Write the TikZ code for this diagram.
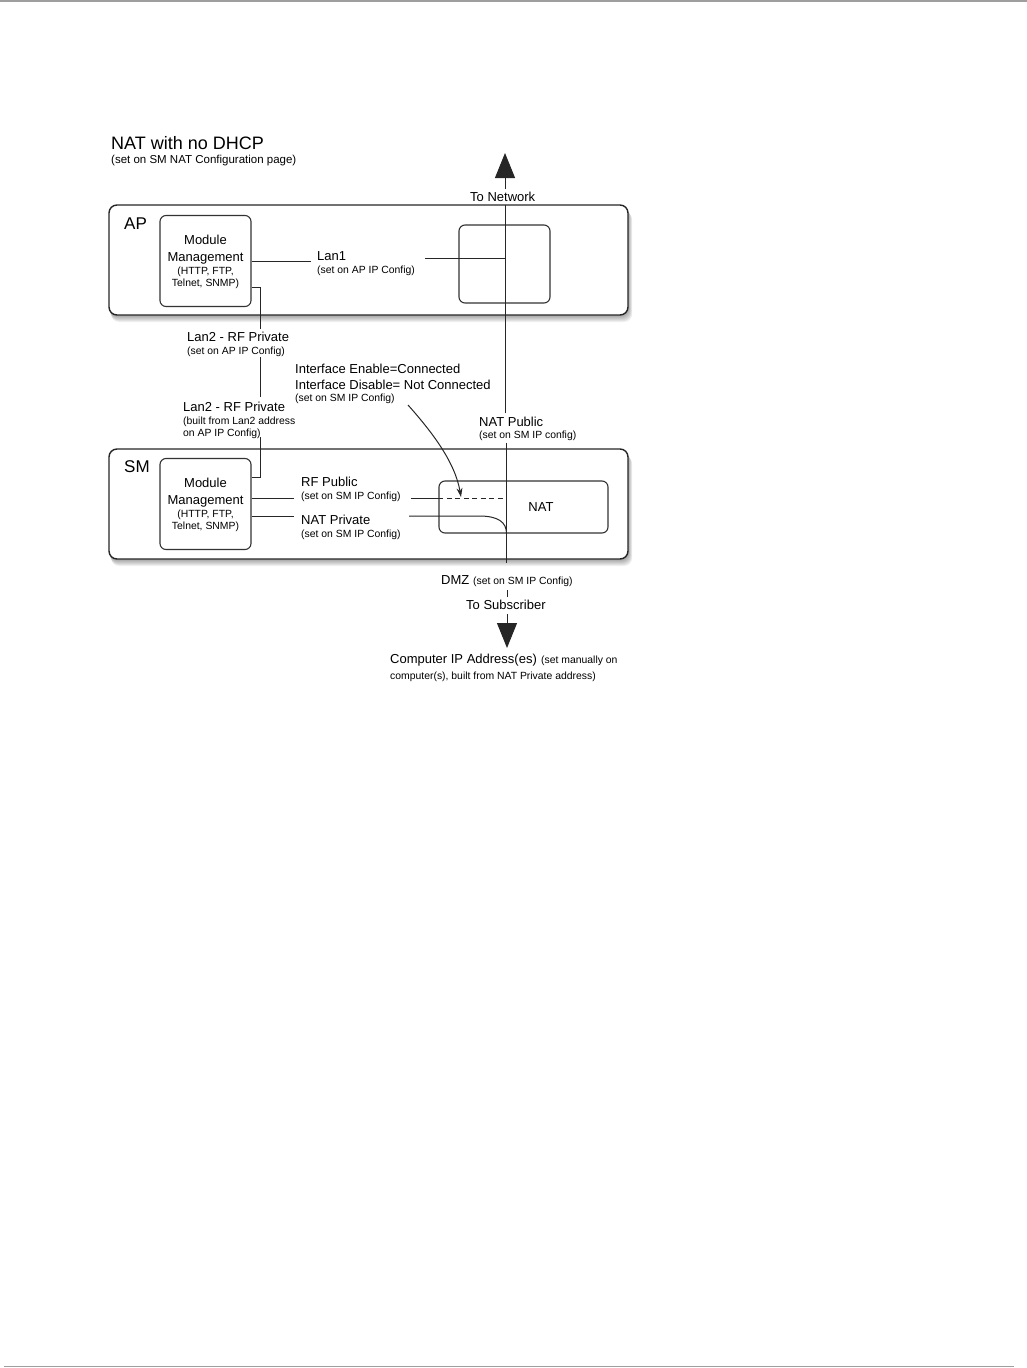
\documentclass[tikz,border=0pt]{standalone}
\usepackage{fontspec}
\setmainfont{Liberation Sans}
\usetikzlibrary{arrows.meta,calc}
\newcommand\fmed{\fontsize{13}{15.5}\selectfont}
\newcommand\fsm{\fontsize{10.4}{12.5}\selectfont}
\begin{document}
\begin{tikzpicture}[x=1pt,y=-1pt,
  txt/.style={inner sep=0pt, anchor=base west, font=\fmed},
  stxt/.style={inner sep=0pt, anchor=base west, font=\fsm},
  ctxt/.style={inner sep=0pt, anchor=base, font=\fmed},
  cstxt/.style={inner sep=0pt, anchor=base, font=\fsm},
  bigbox/.style={draw=black!85, line width=1.4pt, rounded corners=8pt, fill=white, inner sep=0pt},
  inbox/.style={draw=black!80, line width=1.1pt, rounded corners=6pt, inner sep=0pt},
  ln/.style={draw=black!85, line width=1pt},
  bigtip/.style={-{Triangle[length=25pt,width=20pt]}},
  smalltip/.style={-{Stealth[length=9pt,width=6pt]}}
]
\useasboundingbox (0,0) rectangle (1027,1368);
% page rules
\draw[black!38, line width=1.5pt] (0,0.75) -- (1027,0.75);
\draw[black!38, line width=1.2pt] (4,1366.6) -- (1014,1366.6);

% shadows of the big boxes
\foreach \yy in {260,504}{
  \foreach \i in {1,...,7}{
    \fill[black, opacity=0.06, rounded corners=8pt]
      (109+0.3*\i,\yy-55+\i) rectangle (628+0.6*\i,\yy+55+\i);
  }
}

% big boxes
\node[bigbox, minimum width=519pt, minimum height=110pt] (ap) at (368.5,260) {};
\node[bigbox, minimum width=519pt, minimum height=110pt] (sm) at (368.5,504) {};

% inner boxes
\node[inbox, minimum width=91pt, minimum height=91pt] (apmm) at (205.5,261) {};
\node[inbox, minimum width=91pt, minimum height=91pt] (smmm) at (205.5,504) {};
\node[inbox, minimum width=91pt, minimum height=78pt] (apsq) at (504.5,264) {};
\node[inbox, minimum width=169pt, minimum height=52pt] (nat) at (523.5,507) {};

% texts
\node[txt, font=\fontsize{18}{22}\selectfont] (title) at (111,149) {NAT with no DHCP};
\node[stxt, font=\fontsize{11.5}{13}\selectfont] (subtitle) at (111,163) {(set on SM NAT Configuration page)};
\node[txt, font=\fontsize{17}{20}\selectfont] (aplbl) at (124,229) {AP};
\node[txt, font=\fontsize{17}{20}\selectfont] (smlbl) at (124,472.5) {SM};

\node[ctxt]  (apm1) at (205.5,244.5) {Module};
\node[ctxt]  (apm2) at (205.5,261) {Management};
\node[cstxt] (apm3) at (205.5,274.5) {(HTTP, FTP,};
\node[cstxt] (apm4) at (205.5,286) {Telnet, SNMP)};
\node[ctxt]  (smm1) at (205.5,487.5) {Module};
\node[ctxt]  (smm2) at (205.5,504) {Management};
\node[cstxt] (smm3) at (205.5,517.5) {(HTTP, FTP,};
\node[cstxt] (smm4) at (205.5,529) {Telnet, SNMP)};

\node[txt]  (lan1a) at (317,260.5) {Lan1};
\node[stxt] (lan1b) at (317,273) {(set on AP IP Config)};

\node[txt]  (lan2a1) at (187,341.5) {Lan2 - RF Private};
\node[stxt] (lan2a2) at (187,354.5) {(set on AP IP Config)};

\node[txt]  (if1) at (295,373.5) {Interface Enable=Connected};
\node[txt]  (if2) at (295,389.5) {Interface Disable= Not Connected};
\node[stxt] (if3) at (295,401.5) {(set on SM IP Config)};

\node[txt]  (lan2b1) at (183,411) {Lan2 - RF Private};
\node[stxt] (lan2b2) at (183,424) {(built from Lan2 address};
\node[stxt] (lan2b3) at (183,436) {on AP IP Config)};

\node[txt]  (natpub1) at (479,426.5) {NAT Public};
\node[stxt] (natpub2) at (479,438.5) {(set on SM IP config)};

\node[txt]  (rfpub1) at (301,486.5) {RF Public};
\node[stxt] (rfpub2) at (301,499.5) {(set on SM IP Config)};
\node[txt]  (natpriv1) at (301,524.5) {NAT Private};
\node[stxt] (natpriv2) at (301,537) {(set on SM IP Config)};

\node[inner sep=0pt, font=\fmed] (natlbl) at (541,507) {NAT};

\node[txt]  (tonet) at (470,201.5) {To Network};
\node[txt]  (dmz) at (441,584.5) {DMZ};
\node[stxt] (dmzsub) at (473,584.5) {(set on SM IP Config)};
\node[txt]  (tosub) at (466,609.5) {To Subscriber};
\node[txt]  (comp1) at (390,663.5) {Computer IP Address(es)};
\node[stxt] (comp2) at (541,663.5) {(set manually on};
\node[stxt] (comp3) at (390,679) {computer(s), built from NAT Private address)};

% coordinates
\coordinate (nettip) at (505,153);
\coordinate (netlow) at (505,413);
\coordinate (lan1r) at (425,258);
\coordinate (v1) at (260,329);
\coordinate (v2) at (260,357);
\coordinate (v3) at (260,397);
\coordinate (v4) at (260,437);
\coordinate (natx) at (506.5,443);
\coordinate (rfr) at (411,498.5);
\coordinate (npr) at (409,516);
\coordinate (ifstart) at (408,405);
\coordinate (iftip) at (461,497);
\coordinate (dmz1) at (507,590);
\coordinate (dmz2) at (507,597);
\coordinate (subtop) at (507,614);
\coordinate (subtip) at (507,648);

% connectors
\draw[ln, bigtip] (tonet.north -| nettip) ++(0,-3) -- (nettip);
\draw[ln] (tonet.south -| nettip) ++(0,3) -- (netlow);
\draw[ln] (lan1r) -- (nettip |- lan1r);
\draw[ln] (apmm.east |- 0,261) -- ([xshift=-6pt]lan1a.west |- 0,261);

\draw[ln] (apmm.east |- 0,287) -| (v1);
\draw[ln] (v2) -- (v3);
\draw[ln] (v4) |- (smmm.east |- 0,477.5);

\draw[ln] (smmm.east |- 0,498.5) -- ([xshift=-7pt]rfpub1.west |- 0,498.5);
\draw[ln] (smmm.east |- 0,516) -- ([xshift=-7pt]natpriv1.west |- 0,516);

\draw[ln] (rfr) -- (nat.west |- rfr);
\draw[ln, dashed, dash pattern=on 5pt off 3.5pt] (nat.west |- rfr) -- (natx |- rfr);
\draw[ln] (npr) -- (479,516) .. controls (498,516) and (506.5,522) .. (natx |- nat.south);

\draw[ln] (natx) -- (natx |- 0,563);
\draw[ln] (dmz1) -- (dmz2);
\draw[ln, bigtip] (subtop) -- (subtip);

\draw[ln, smalltip] (ifstart) .. controls (432,432) and (455,462) .. (iftip);
\end{tikzpicture}
\end{document}
